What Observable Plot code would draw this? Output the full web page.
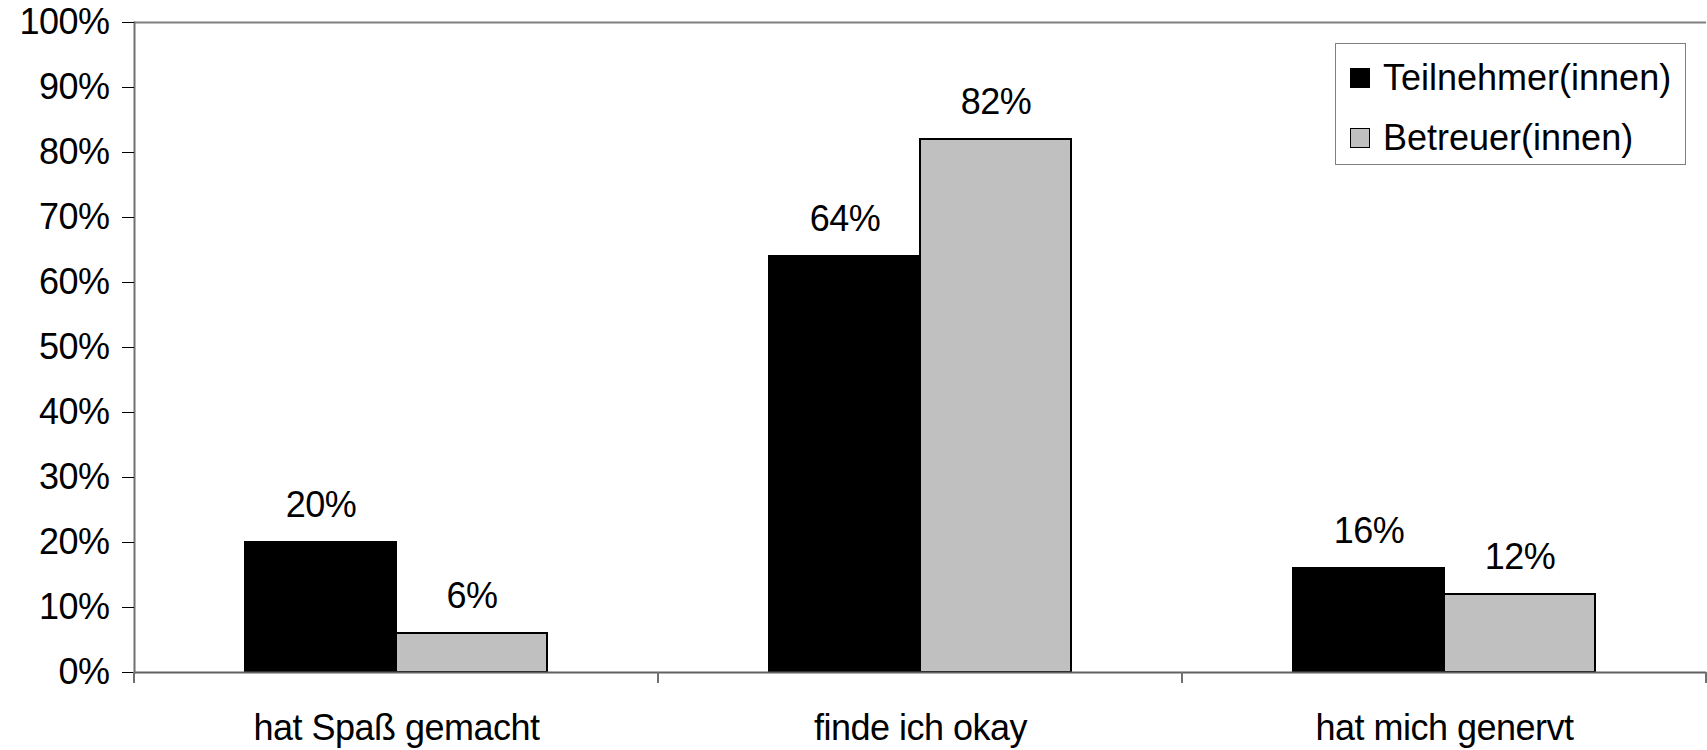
<!DOCTYPE html>
<html><head><meta charset="utf-8">
<script src="https://cdn.jsdelivr.net/npm/d3@7"></script>
<script src="https://cdn.jsdelivr.net/npm/@observablehq/plot@0.6"></script>
<style>
body{margin:0;background:#fff;}
#wrap{position:relative;width:1707px;height:750px;font-family:"Liberation Sans",Arial,sans-serif;}
#legend{position:absolute;left:1335px;top:43px;width:351px;height:122px;border:1px solid #808080;background:#fff;box-sizing:border-box;}
.item{position:absolute;left:14px;height:40px;display:flex;align-items:center;font-size:36px;letter-spacing:0px;white-space:nowrap;color:#000;}
.sw{width:18px;height:18px;border:1.5px solid #000;margin-right:13px;box-sizing:content-box;}
</style></head><body><div id="wrap"><div id="chart"></div><div id="legend"></div></div>
<script>
const categories = ["hat Spaß gemacht", "finde ich okay", "hat mich genervt"];
const series = ["Teilnehmer(innen)", "Betreuer(innen)"];
const teilnehmer = [0.20, 0.64, 0.16];
const betreuer = [0.06, 0.82, 0.12];
const yTicks = [0, 0.1, 0.2, 0.3, 0.4, 0.5, 0.6, 0.7, 0.8, 0.9, 1.0];
const colors = ["#000000", "#c0c0c0"];

const rows = [];
categories.forEach((c, i) => {
  rows.push({category: c, series: series[0], value: teilnehmer[i]});
  rows.push({category: c, series: series[1], value: betreuer[i]});
});

const fontFamily = '"Liberation Sans", Arial, sans-serif';
const chart = Plot.plot({
  width: 1707,
  height: 750,
  marginLeft: 133,
  marginRight: 0,
  marginTop: 22,
  marginBottom: 78,
  style: {fontFamily, fontSize: "36px", background: "#fff", color: "#000", letterSpacing: "-0.5px"},
  fx: {domain: categories, padding: 0, label: null},
  x: {domain: series, paddingInner: 0, paddingOuter: 0.73, axis: null},
  y: {domain: [0, 1], label: null},
  color: {domain: series, range: colors},
  marks: [
    Plot.ruleY([1], {stroke: "#808080", strokeWidth: 2}),
    Plot.barY(rows, {fx: "category", x: "series", y: "value", fill: "series", stroke: "#000", strokeWidth: 2}),
    Plot.ruleY([0], {stroke: "#606060", strokeWidth: 2}),
    Plot.frame({anchor: "left", facetAnchor: "left", stroke: "#707070", strokeWidth: 2}),
    Plot.axisY({ticks: yTicks, tickFormat: d3.format(".0%"), tickSize: 12, tickPadding: 13, fontSize: 36, label: null, stroke: "#000"}),
    Plot.axisFx({anchor: "bottom", tickSize: 0, tickPadding: 42, fontSize: 36, label: null}),
    Plot.text(rows, {fx: "category", x: "series", y: "value", text: d => d3.format(".0%")(d.value), dy: -37, lineAnchor: "middle", fontSize: 36})
  ]
});
document.getElementById("chart").appendChild(chart);

// category boundary ticks below the baseline, from the fx scale
const fxs = chart.scale("fx");
const ys = chart.scale("y");
const y0 = ys.apply(0);
const bounds = categories.map(c => fxs.apply(c));
bounds.push(fxs.apply(categories[categories.length - 1]) + fxs.bandwidth);
d3.select(chart).append("g").selectAll("line").data(bounds).join("line")
  .attr("x1", d => d).attr("x2", d => d)
  .attr("y1", y0).attr("y2", y0 + 11)
  .attr("stroke", "#707070").attr("stroke-width", 2);

const legend = document.getElementById("legend");
series.forEach((s, i) => {
  const item = document.createElement("div");
  item.className = "item";
  item.style.top = (14 + i * 60) + "px";
  const sw = document.createElement("span");
  sw.className = "sw";
  sw.style.background = colors[i];
  item.appendChild(sw);
  item.appendChild(document.createTextNode(s));
  legend.appendChild(item);
});
</script></body></html>
